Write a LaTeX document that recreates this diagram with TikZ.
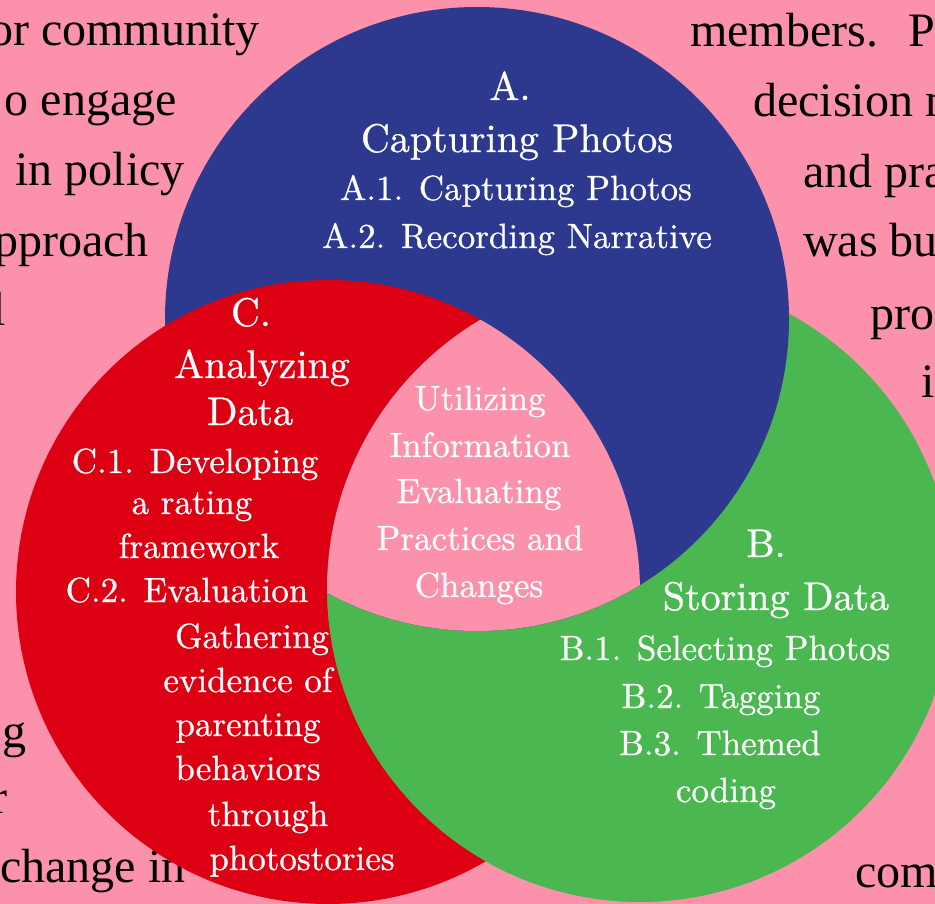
\documentclass[tikz,border=0pt]{standalone}
\usepackage{fontspec}
\newfontfamily\bgfont{Liberation Serif}
\newfontfamily\circfont{lmroman10-regular}[Extension=.otf, FakeBold=0.7]
\definecolor{pinkbg}{RGB}{252,145,171}
\definecolor{bluec}{RGB}{45,57,142}
\definecolor{redc}{RGB}{220,0,18}
\definecolor{greenc}{RGB}{74,183,81}
\tikzset{
  wt/.style={text=white, inner sep=0pt, anchor=base},
  ttl/.style={wt, font=\circfont\fontsize{40}{40}\selectfont},
  itm/.style={wt, font=\circfont\fontsize{35}{35}\selectfont},
  bgl/.style={text=black, inner sep=0pt, anchor=base east, font=\bgfont\fontsize{48}{48}\selectfont},
  bgr/.style={text=black, inner sep=0pt, anchor=base west, font=\bgfont\fontsize{48}{48}\selectfont}
}
\begin{document}
\begin{tikzpicture}[x=1pt,y=-1pt]
\useasboundingbox (0,0) rectangle (935,904);
\clip (0,0) rectangle (935,904);
\fill[pinkbg] (0,0) rectangle (935,904);
% background text
\node[bgl] (l1) at (260,46) {or community};
\node[bgl] (l2) at (177,116) {o engage};
\node[bgl] (l3) at (185,186) {in policy};
\node[bgl] (l4) at (149,257) {pproach};
\node[bgl] (l5) at (6,326) {l};
\node[bgl] (l6) at (27,747) {g};
\node[bgl] (l7) at (8,813) {r};
\node[bgr] (l8) at (0,882) {change in};
\node[bgr] (r1) at (690,47) {members.\hspace{30pt}P};
\node[bgr] (r2) at (753,117) {decision m};
\node[bgr] (r3) at (803,188) {and pra};
\node[bgr] (r4) at (803,257) {was bu};
\node[bgr] (r5) at (870,330) {pro};
\node[bgr] (r6) at (921,397) {i};
\node[bgr] (r7) at (855,887) {com};
% circles
\coordinate (B) at (477,319);
\coordinate (R) at (328,592);
\coordinate (G) at (640,589);
\fill[greenc] (G) circle[radius=313pt];
\fill[bluec] (B) circle[radius=312pt];
\begin{scope}[even odd rule]
  \clip (-10,-10) rectangle (950,920) (G) circle[radius=313pt];
  \fill[redc] (R) circle[radius=312pt];
\end{scope}
\begin{scope}
  \clip (B) circle[radius=312pt];
  \clip (R) circle[radius=312pt];
  \fill[pinkbg] (G) circle[radius=313pt];
\end{scope}
% A block
\node[ttl] (a0) at (510,100) {A.};
\node[ttl] (a1) at (517,152) {Capturing Photos};
\node[itm] (a2) at (516,200) {A.1. Capturing Photos};
\node[itm] (a3) at (517,248) {A.2. Recording Narrative};
% C block
\node[ttl] (c0) at (251,326) {C.};
\node[ttl] (c1) at (262,378) {Analyzing};
\node[ttl] (c2) at (250,425) {Data};
\node[itm] (c3) at (195,473) {C.1. Developing};
\node[itm] (c4) at (192,514) {a rating};
\node[itm] (c5) at (199,558) {framework};
\node[itm] (c6) at (187,602) {C.2. Evaluation};
\node[itm] (c7) at (252,648) {Gathering};
\node[itm] (c8) at (248,692) {evidence of};
\node[itm] (c9) at (248,736) {parenting};
\node[itm] (c10) at (248,780) {behaviors};
\node[itm] (c11) at (268,826) {through};
\node[itm] (c12) at (302,870) {photostories};
% B block
\node[ttl] (b0) at (766,557) {B.};
\node[ttl] (b1) at (776,610) {Storing Data};
\node[itm] (b2) at (725,660) {B.1. Selecting Photos};
\node[itm] (b3) at (721,708) {B.2. Tagging};
\node[itm] (b4) at (720,755) {B.3. Themed};
\node[itm] (b5) at (726,802) {coding};
% center
\node[itm] (m1) at (480,410) {Utilizing};
\node[itm] (m2) at (480,457) {Information};
\node[itm] (m3) at (479,503) {Evaluating};
\node[itm] (m4) at (480,550) {Practices and};
\node[itm] (m5) at (479,597) {Changes};
\end{tikzpicture}
\end{document}
